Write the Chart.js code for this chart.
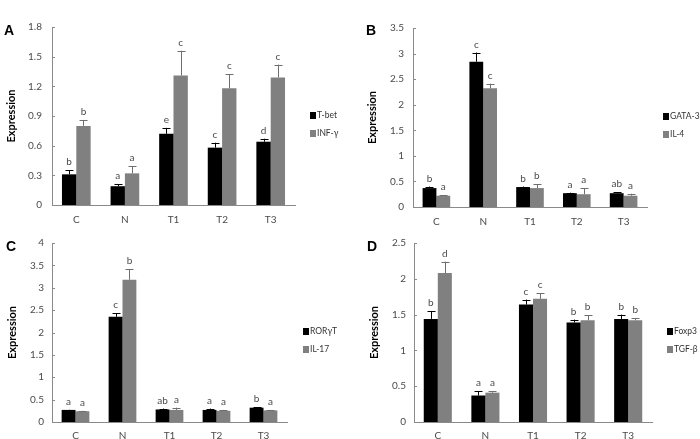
<!DOCTYPE html>
<html><head><meta charset="utf-8">
<script src="https://cdn.jsdelivr.net/npm/chart.js@4"></script>
<style>
html,body{margin:0;padding:0;background:#fff;overflow:hidden}
#wrap{position:relative;width:700px;height:439px;overflow:hidden}
canvas{position:absolute;display:block}
</style></head><body>
<div id="wrap">
<canvas id="cA" width="350" height="232" style="left:0;top:0;width:350px;height:232px"></canvas>
<canvas id="cB" width="350" height="232" style="left:350px;top:0;width:350px;height:232px"></canvas>
<canvas id="cC" width="350" height="220" style="left:0;top:219px;width:350px;height:220px"></canvas>
<canvas id="cD" width="350" height="220" style="left:350px;top:219px;width:350px;height:220px"></canvas>
</div>
<script>
const categories = ['C', 'N', 'T1', 'T2', 'T3'];

// Panel A
const aNames = ['T-bet', 'INF-γ'];
const aTbet = [0.31, 0.19, 0.72, 0.58, 0.64];
const aTbetErr = [0.04, 0.02, 0.06, 0.05, 0.03];
const aTbetLetters = ['b', 'a', 'e', 'c', 'd'];
const aInf = [0.80, 0.32, 1.31, 1.18, 1.29];
const aInfErr = [0.06, 0.07, 0.25, 0.14, 0.13];
const aInfLetters = ['b', 'a', 'c', 'c', 'c'];
const aTicks = { max: 1.8, step: 0.3 };

// Panel B
const bNames = ['GATA-3', 'IL-4'];
const bGata = [0.37, 2.84, 0.39, 0.27, 0.27];
const bGataErr = [0.03, 0.18, 0.01, 0.01, 0.02];
const bGataLetters = ['b', 'c', 'b', 'a', 'ab'];
const bIl4 = [0.22, 2.32, 0.37, 0.25, 0.22];
const bIl4Err = [0.01, 0.09, 0.08, 0.12, 0.04];
const bIl4Letters = ['a', 'c', 'b', 'a', 'a'];
const bTicks = { max: 3.5, step: 0.5 };

// Panel C
const cNames = ['RORγT', 'IL-17'];
const cRor = [0.27, 2.35, 0.28, 0.27, 0.32];
const cRorErr = [0.005, 0.08, 0.02, 0.03, 0.01];
const cRorLetters = ['a', 'c', 'ab', 'a', 'b'];
const cIl17 = [0.24, 3.18, 0.27, 0.25, 0.26];
const cIl17Err = [0.01, 0.24, 0.05, 0.02, 0.01];
const cIl17Letters = ['a', 'b', 'a', 'a', 'a'];
const cTicks = { max: 4, step: 0.5 };

// Panel D
const dNames = ['Foxp3', 'TGF-β'];
const dFoxp3 = [1.44, 0.37, 1.64, 1.39, 1.44];
const dFoxp3Err = [0.11, 0.06, 0.07, 0.04, 0.06];
const dFoxp3Letters = ['b', 'a', 'c', 'b', 'b'];
const dTgf = [2.08, 0.41, 1.72, 1.42, 1.42];
const dTgfErr = [0.16, 0.02, 0.08, 0.07, 0.03];
const dTgfLetters = ['d', 'a', 'c', 'b', 'b'];
const dTicks = { max: 2.5, step: 0.5 };

const BLACK = '#000000', GRAY = '#808080', AXIS = '#8a8a8a', TEXT = '#4a4a4a';

const deco = {
  id: 'deco',
  afterDraw(chart, args, o) {
    const ctx = chart.ctx, ys = chart.scales.y, ca = chart.chartArea;
    ctx.save();
    // inner y tick marks
    ctx.strokeStyle = AXIS; ctx.lineWidth = 1;
    ys.ticks.forEach(t => {
      const y = Math.round(ys.getPixelForValue(t.value)) + 0.5;
      ctx.beginPath(); ctx.moveTo(ca.left, y); ctx.lineTo(ca.left + 3, y); ctx.stroke();
    });
    // error bars and letters
    chart.data.datasets.forEach((ds, i) => {
      const meta = chart.getDatasetMeta(i);
      meta.data.forEach((bar, j) => {
        const top = ys.getPixelForValue(ds.data[j] + ds.err[j]);
        const x = Math.round(bar.x) + 0.5;
        ctx.strokeStyle = i === 0 ? '#000' : '#6e6e6e';
        ctx.beginPath();
        ctx.moveTo(x, bar.y); ctx.lineTo(x, top);
        ctx.moveTo(x - 4, Math.round(top) + 0.5); ctx.lineTo(x + 4, Math.round(top) + 0.5);
        ctx.stroke();
        ctx.fillStyle = TEXT; ctx.font = '10px Lato'; ctx.textAlign = 'center'; ctx.textBaseline = 'alphabetic';
        ctx.fillText(ds.letters[j], bar.x, top - 5);
      });
    });
    // legend
    chart.data.datasets.forEach((ds, i) => {
      const y = o.legendY[i];
      ctx.fillStyle = ds.backgroundColor;
      ctx.fillRect(o.legendX, y - 3, 6, 7);
      ctx.fillStyle = '#333'; ctx.font = '8.5px Lato'; ctx.textAlign = 'left'; ctx.textBaseline = 'middle';
      ctx.fillText(ds.label, o.legendX + 7, y + 0.5);
    });
    // panel letter
    ctx.fillStyle = '#000'; ctx.font = 'bold 14px "Liberation Sans"'; ctx.textAlign = 'left'; ctx.textBaseline = 'middle';
    ctx.fillText(o.letter, o.letterX, o.letterY);
    ctx.restore();
  }
};

function makePanel(id, names, v1, e1, l1, v2, e2, l2, tk, p) {
  new Chart(document.getElementById(id), {
    type: 'bar',
    data: {
      labels: categories,
      datasets: [
        { label: names[0], data: v1, err: e1, letters: l1, backgroundColor: BLACK },
        { label: names[1], data: v2, err: e2, letters: l2, backgroundColor: GRAY }
      ]
    },
    options: {
      responsive: false, animation: false, devicePixelRatio: 1,
      layout: { padding: { top: p.top, right: p.right, left: 0, bottom: 0 } },
      categoryPercentage: 0.59, barPercentage: 1.0,
      plugins: {
        legend: { display: false }, tooltip: { enabled: false },
        deco: { letter: p.letter, letterX: p.letterX, letterY: p.letterY, legendX: p.legendX, legendY: p.legendY }
      },
      scales: {
        x: {
          grid: { display: false, drawTicks: false },
          border: { display: true, color: AXIS, width: 1 },
          ticks: { color: TEXT, font: { family: 'Lato', size: 10 }, padding: p.xPad },
          afterFit: s => { s.height = p.xH; }
        },
        y: {
          min: 0, max: tk.max,
          grid: { display: false, drawTicks: false },
          border: { display: true, color: AXIS, width: 1 },
          ticks: { stepSize: tk.step, color: TEXT, font: { family: 'Lato', size: 10 }, padding: p.yPad,
                   callback: v => String(+v.toFixed(2)) },
          title: { display: true, text: 'Expression', color: '#000', font: { family: 'Lato', size: 11, weight: 'bold' },
                   padding: { top: p.titlePad, bottom: 0 } },
          afterFit: s => { s.width = p.yW; }
        }
      }
    },
    plugins: [deco]
  });
}

makePanel('cA', aNames, aTbet, aTbetErr, aTbetLetters, aInf, aInfErr, aInfLetters, aTicks,
  { top: 27, right: 55, xH: 27, yW: 52, xPad: 9, yPad: 10, titlePad: 5, letter: 'A', letterX: 4, letterY: 31, legendX: 310, legendY: [115, 133] });
makePanel('cB', bNames, bGata, bGataErr, bGataLetters, bIl4, bIl4Err, bIl4Letters, bTicks,
  { top: 28, right: 53, xH: 25, yW: 63, xPad: 9, yPad: 9, titlePad: 16, letter: 'B', letterX: 16, letterY: 31, legendX: 313, legendY: [116, 134] });
makePanel('cC', cNames, cRor, cRorErr, cRorLetters, cIl17, cIl17Err, cIl17Letters, cTicks,
  { top: 24, right: 63, xH: 17, yW: 52, xPad: 8, yPad: 8, titlePad: 6, letter: 'C', letterX: 6, letterY: 28, legendX: 303, legendY: [112, 130] });
makePanel('cD', dNames, dFoxp3, dFoxp3Err, dFoxp3Letters, dTgf, dTgfErr, dTgfLetters, dTicks,
  { top: 24, right: 48, xH: 17, yW: 64, xPad: 8, yPad: 8, titlePad: 18, letter: 'D', letterX: 17, letterY: 28, legendX: 317, legendY: [112, 130] });
</script>
</body></html>
